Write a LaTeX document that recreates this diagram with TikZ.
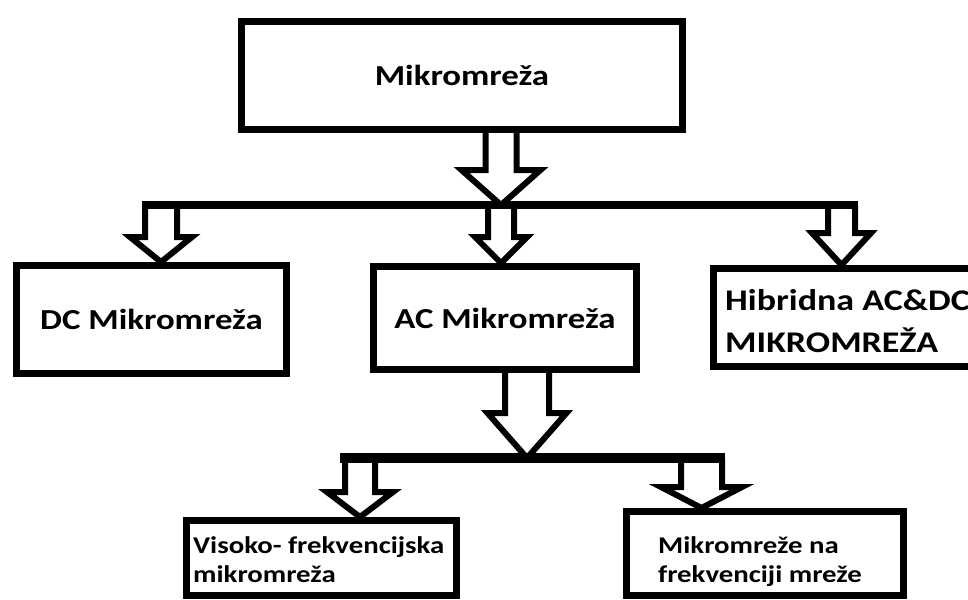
\documentclass[tikz,border=0pt]{standalone}
\usepackage{fontspec}
\setmainfont{Carlito}[FakeStretch=1.2]
\usetikzlibrary{calc}
\tikzset{
  box/.style={draw=black, line width=7pt, fill=white, inner sep=0pt},
  barr/.style={draw=black, line width=6pt, line join=miter, miter limit=10},
  bus/.style={draw=black, line cap=butt},
  lbl/.style={inner sep=0pt, align=left},
  bigtxt/.style={font=\bfseries\fontsize{29}{42}\selectfont},
  hybtxt/.style={font=\bfseries\fontsize{30}{42}\selectfont},
  smalltxt/.style={font=\bfseries\fontsize{24}{29}\selectfont},
}
\newcommand\blockarrow[5]{%
  \draw[barr] let \p1=(#1), \p2=(#2) in
    (\x2-#3pt,\y1) -- (\x2-#3pt,\y2+#5pt) -- (\x2-#4pt,\y2+#5pt) -- (\p2)
    -- (\x2+#4pt,\y2+#5pt) -- (\x2+#3pt,\y2+#5pt) -- (\x2+#3pt,\y1);}
\begin{document}
\begin{tikzpicture}[x=1pt,y=-1pt]
\useasboundingbox (0,0) rectangle (968,599);
\clip (0,0) rectangle (968,599);
\fill[white] (0,0) rectangle (968,599);

% boxes
\node[box, bigtxt, minimum width=441pt, minimum height=108pt] (top) at (462,75.5) {Mikromreža};
\node[box, bigtxt, minimum width=270pt, minimum height=108pt] (dc) at (151.5,319.5) {DC Mikromreža};
\node[box, bigtxt, minimum width=263pt, minimum height=103pt] (ac) at (505,318) {AC Mikromreža};
\node[box, minimum width=273pt, minimum height=98pt] (hyb) at (850,317.5) {};
\node[box, minimum width=270pt, minimum height=75pt] (bl) at (321.5,558) {};
\node[box, minimum width=277pt, minimum height=84pt] (br) at (765,553.5) {};

% labels of multi-line boxes (anchored at the baseline of the last line)
\node[lbl, hybtxt, anchor=base west] (thyb) at (725,352) {Hibridna AC\&DC\\MIKROMREŽA};
\node[lbl, smalltxt, anchor=base west] (tbl) at (193,582) {Visoko- frekvencijska\\mikromreža};
\node[lbl, smalltxt, anchor=base west] (tbr) at (658,582) {Mikromreže na\\frekvenciji mreže};

% first level bus
\coordinate (b1L) at (142,205);
\coordinate (b1R) at (858,205);
\coordinate (b1c) at (501,205);
\coordinate (b1dc) at (161,205);
\coordinate (b1h) at (841.5,205);
\draw[bus, line width=8pt] (b1L) -- (b1R);
\blockarrow{top.south}{b1c}{15.5}{39.5}{35}
\blockarrow{b1dc}{b1dc |- dc.north}{16}{31}{25}
\blockarrow{b1c}{b1c |- ac.north}{13}{26}{26}
\blockarrow{b1h}{b1h |- hyb.north}{13.5}{29.5}{32}

% second level bus
\coordinate (b2L) at (340,458);
\coordinate (b2R) at (725,458);
\coordinate (b2c) at (527,458);
\coordinate (b2l) at (360,458);
\coordinate (b2r) at (701.5,458);
\draw[bus, line width=10pt] (b2L) -- (b2R);
\blockarrow{ac.south}{b2c}{22}{39.5}{45}
\blockarrow{b2l}{b2l |- bl.north}{15}{33}{25}
\blockarrow{b2r}{b2r |- br.north}{20.5}{40.5}{21}
\end{tikzpicture}
\end{document}
